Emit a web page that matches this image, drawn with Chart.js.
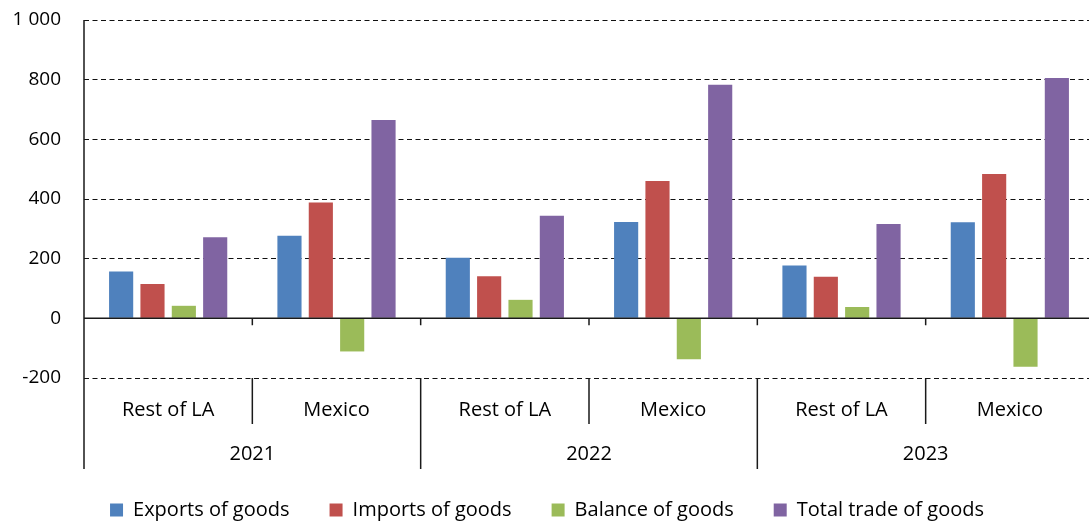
<!DOCTYPE html>
<html>
<head>
<meta charset="utf-8">
<script src="https://cdn.jsdelivr.net/npm/chart.js@4.4.1/dist/chart.umd.min.js"></script>
<style>
html, body { margin: 0; padding: 0; background: #fff; overflow: hidden; }
#wrap { width: 1094px; height: 521px; }
</style>
</head>
<body>
<div id="wrap"><canvas id="myChart"></canvas></div>
<script>
// Trade in goods, Rest of LA vs Mexico, 2021-2023
var regions = ['Rest of LA', 'Mexico', 'Rest of LA', 'Mexico', 'Rest of LA', 'Mexico'];
var years = ['2021', '2022', '2023'];
var exportsOfGoods = [157, 277, 203, 323, 177, 322];
var importsOfGoods = [115, 388, 141, 460, 139, 484];
var balanceOfGoods = [42, -111, 62, -137, 38, -162];
var totalTrade = [272, 665, 344, 783, 316, 806];
var yMin = -200, yMax = 1000, yStep = 200;

var FONT = '"Open Sans", "Noto Sans", sans-serif';

// draws the zero line, the axis ticks and the two rows of category labels
var groupAxis = {
    id: 'groupAxis',
    afterDatasetsDraw: function (chart) {
        var ctx = chart.ctx, area = chart.chartArea;
        var x = chart.scales.x, y = chart.scales.y;
        var y0 = y.getPixelForValue(0);
        var half = (x.getPixelForValue(1) - x.getPixelForValue(0)) / 2;
        ctx.save();
        ctx.strokeStyle = '#1a1a1a';
        ctx.lineWidth = 1.5;
        ctx.beginPath();
        ctx.moveTo(area.left, y0);
        ctx.lineTo(area.right, y0);
        ctx.moveTo(area.left, area.top);
        ctx.lineTo(area.left, area.bottom + 91);
        for (var i = 1; i < regions.length; i++) {
            var bx = x.getPixelForValue(i) - half;
            ctx.moveTo(bx, y0);
            ctx.lineTo(bx, y0 + 7);
            ctx.moveTo(bx, area.bottom);
            ctx.lineTo(bx, area.bottom + (i % 2 === 0 ? 91 : 46));
        }
        ctx.stroke();

        ctx.fillStyle = '#000';
        ctx.font = '20px ' + FONT;
        ctx.textAlign = 'center';
        ctx.textBaseline = 'middle';
        regions.forEach(function (r, i) {
            ctx.fillText(r, x.getPixelForValue(i), area.bottom + 32);
        });
        years.forEach(function (yr, j) {
            var cx = (x.getPixelForValue(2 * j) + x.getPixelForValue(2 * j + 1)) / 2;
            ctx.fillText(yr, cx, area.bottom + 76);
        });
        ctx.restore();
    }
};

var ctx = document.getElementById('myChart').getContext('2d');
var myChart = new Chart(ctx, {
    type: 'bar',
    data: {
        labels: regions,
        datasets: [
            { label: 'Exports of goods', data: exportsOfGoods, backgroundColor: '#4F81BD' },
            { label: 'Imports of goods', data: importsOfGoods, backgroundColor: '#C0504D' },
            { label: 'Balance of goods', data: balanceOfGoods, backgroundColor: '#9BBB59' },
            { label: 'Total trade of goods', data: totalTrade, backgroundColor: '#8064A2' }
        ]
    },
    options: {
        responsive: true,
        maintainAspectRatio: false,
        animation: false,
        datasets: {
            bar: { categoryPercentage: 0.745, barPercentage: 0.77 }
        },
        layout: { padding: { top: 20, right: 0, bottom: -9, left: 0 } },
        scales: {
            x: {
                ticks: { display: false },
                grid: { display: false },
                border: { display: false },
                afterFit: function (scale) { scale.height = 82; }
            },
            y: {
                min: yMin,
                max: yMax,
                ticks: {
                    stepSize: yStep,
                    padding: 23,
                    color: '#000',
                    font: { family: FONT, size: 19 },
                    callback: function (v) {
                        return String(v).replace(/\B(?=(\d{3})+(?!\d))/g, ' ');
                    }
                },
                grid: { color: '#111', lineWidth: 1, drawTicks: false },
                border: { display: false, dash: [5, 3.5] },
                afterFit: function (scale) {
                    scale.width = 84;
                    scale.paddingTop = 0;
                    scale.paddingBottom = 0;
                }
            }
        },
        plugins: {
            legend: {
                position: 'bottom',
                labels: {
                    boxWidth: 13,
                    boxHeight: 13,
                    padding: 40,
                    color: '#000',
                    font: { family: FONT, size: 20 }
                }
            },
            tooltip: { enabled: false }
        }
    },
    plugins: [groupAxis]
});
</script>
</body>
</html>
